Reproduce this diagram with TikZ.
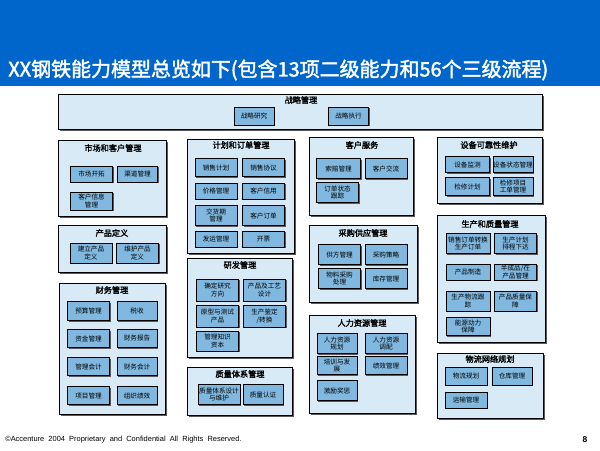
\documentclass[tikz,border=0pt]{standalone}
\usepackage{fontspec}
\setmainfont{Liberation Sans}
\newfontfamily\cjk{Noto Sans CJK SC}
\newfontfamily\cjkbold{Noto Sans CJK SC}[FakeBold=2]
\usepackage{tikz}
\usetikzlibrary{shadows}
\definecolor{barblue}{HTML}{0066CC}
\definecolor{grpfill}{HTML}{D8EAF6}
\definecolor{taskfill}{HTML}{80B8E0}

\begin{document}
\begin{tikzpicture}[x=0.025cm, y=-0.025cm, font=\cjk]

\useasboundingbox (0,0) rectangle (600,450);
\fill[barblue] (0,0) rectangle (600,86);

\tikzset{
  grp/.style={draw=black, line width=0.6pt, fill=grpfill, inner sep=0pt,
              drop shadow={shadow xshift=1.2pt, shadow yshift=-1.2pt, fill=black!65, opacity=1}},
  grptitle/.style={inner sep=0pt, font=\cjkbold\fontsize{5.8}{6.5}\selectfont},
  task/.style={draw=black, line width=0.6pt, fill=taskfill, inner sep=0pt, align=center,
               minimum width=1.03cm, minimum height=0.46cm,
               font=\cjk\fontsize{4.7}{5.6}\selectfont,
               drop shadow={shadow xshift=1pt, shadow yshift=-1pt, fill=black!65, opacity=1}}
}

\node[anchor=west, text=white, inner sep=0pt, font=\cjkbold\fontsize{14.2}{16}\selectfont]
      (title) at (8,70) {XX钢铁能力模型总览如下(包含13项二级能力和56个三级流程)};

% strategy
\node[grp, minimum width=12.1cm, minimum height=0.875cm] (strat) at (300,111.5) {};
\node[grptitle] (strat-t) at (301,100) {战略管理};
\node[task, minimum width=1cm, minimum height=0.45cm] (strat1) at (254,116) {战略研究};
\node[task, minimum width=1.02cm, minimum height=0.45cm] (strat2) at (348.5,116) {战略执行};

% column 1
\node[grp, minimum width=2.7cm, minimum height=1.9cm] (mkt) at (112,178) {};
\node[grptitle] (mkt-t) at (113,148) {市场和客户管理};
\node[task, minimum height=0.4cm] (mkt1) at (91.5,174) {市场开拓};
\node[task, minimum width=0.98cm, minimum height=0.4cm] (mkt2) at (137.5,174) {渠道管理};
\node[task, minimum height=0.45cm] (mkt3) at (91.5,201) {客户信息\\管理};

\node[grp, minimum width=2.7cm, minimum height=1.175cm] (prod) at (112,248.5) {};
\node[grptitle] (prod-t) at (112,233) {产品定义};
\node[task, minimum width=1.05cm, minimum height=0.5cm] (prod1) at (91,253) {建立产品\\定义};
\node[task, minimum width=1.03cm, minimum height=0.5cm] (prod2) at (137.5,253) {维护产品\\定义};

\node[grp, minimum width=2.65cm, minimum height=3.275cm] (fin) at (112,348.5) {};
\node[grptitle] (fin-t) at (112,290) {财务管理};
\node[task] (fin1) at (88.5,311) {预算管理};
\node[task, minimum width=1cm] (fin2) at (137,311) {税收};
\node[task] (fin3) at (88.5,338.5) {资金管理};
\node[task, minimum width=1cm] (fin4) at (137,338.5) {财务报告};
\node[task] (fin5) at (88.5,366.5) {管理会计};
\node[task, minimum width=1cm] (fin6) at (137,366.5) {财务会计};
\node[task] (fin7) at (88.5,395.5) {项目管理};
\node[task, minimum width=1cm] (fin8) at (137,395.5) {组织绩效};

% column 2
\node[grp, minimum width=2.675cm, minimum height=2.85cm] (plan) at (240.5,196) {};
\node[grptitle] (plan-t) at (241,145) {计划和订单管理};
\node[task, minimum width=1.05cm, minimum height=0.43cm] (plan1) at (216,167.5) {销售计划};
\node[task, minimum height=0.43cm] (plan2) at (263.5,167.5) {销售协议};
\node[task, minimum width=1.05cm, minimum height=0.4cm] (plan3) at (216,191) {价格管理};
\node[task, minimum height=0.4cm] (plan4) at (263.5,191) {客户信用};
\node[task, minimum width=1.05cm, minimum height=0.48cm] (plan5) at (216,215.5) {交货期\\管理};
\node[task, minimum height=0.48cm] (plan6) at (263.5,215.5) {客户订单};
\node[task, minimum width=1.05cm, minimum height=0.4cm] (plan7) at (216,239) {发运管理};
\node[task, minimum height=0.4cm] (plan8) at (263.5,239) {开票};

\node[grp, minimum width=2.625cm, minimum height=2.475cm] (rd) at (239.5,307.5) {};
\node[grptitle] (rd-t) at (240,265) {研发管理};
\node[task, minimum width=1.03cm, minimum height=0.55cm] (rd1) at (217.5,290) {确定研究\\方向};
\node[task, minimum width=1.03cm, minimum height=0.55cm] (rd2) at (264.5,290) {产品及工艺\\设计};
\node[task, minimum width=1.03cm, minimum height=0.55cm] (rd3) at (217.5,316) {原型与测试\\产品};
\node[task, minimum width=1.03cm, minimum height=0.55cm] (rd4) at (264.5,316) {生产鉴定\\/转换};
\node[task, minimum width=1.03cm, minimum height=0.5cm] (rd5) at (217.5,341) {管理知识\\资本};

\node[grp, minimum width=2.625cm, minimum height=1.2cm] (qms) at (239.5,391) {};
\node[grptitle] (qms-t) at (240,374) {质量体系管理};
\node[task, minimum width=1.05cm, minimum height=0.48cm] (qms1) at (219,394.5) {质量体系设计\\与维护};
\node[task, minimum width=1cm, minimum height=0.48cm] (qms2) at (263,394.5) {质量认证};

% column 3
\node[grp, minimum width=2.6cm, minimum height=1.95cm] (svc) at (361,176) {};
\node[grptitle] (svc-t) at (362,145) {客户服务};
\node[task, minimum width=1.08cm, minimum height=0.48cm] (svc1) at (338.5,168.5) {索赔管理};
\node[task, minimum width=1.05cm, minimum height=0.48cm] (svc2) at (386,168.5) {客户交流};
\node[task, minimum width=1.03cm, minimum height=0.48cm] (svc3) at (337.5,192.5) {订单状态\\跟踪};

\node[grp, minimum width=2.7cm, minimum height=1.925cm] (pur) at (363,263.5) {};
\node[grptitle] (pur-t) at (363,233) {采购供应管理};
\node[task, minimum height=0.52cm] (pur1) at (339.5,254.5) {供方管理};
\node[task, minimum width=1.05cm, minimum height=0.52cm] (pur2) at (386,254.5) {采购策略};
\node[task, minimum height=0.52cm] (pur3) at (339.5,278.5) {物料采购\\处理};
\node[task, minimum width=1.05cm, minimum height=0.52cm] (pur4) at (386,278.5) {库存管理};

\node[grp, minimum width=2.65cm, minimum height=2.45cm] (hr) at (362,364) {};
\node[grptitle] (hr-t) at (362,323) {人力资源管理};
\node[task, minimum width=1cm, minimum height=0.48cm] (hr1) at (337,343.5) {人力资源\\规划};
\node[task, minimum width=1.05cm, minimum height=0.48cm] (hr2) at (386,343.5) {人力资源\\调配};
\node[task, minimum width=1cm, minimum height=0.45cm] (hr3) at (337,365.5) {培训与发\\展};
\node[task, minimum width=1.05cm, minimum height=0.45cm] (hr4) at (386,365.5) {绩效管理};
\node[task, minimum width=1cm, minimum height=0.48cm] (hr5) at (337,390.5) {激励奖惩};

% column 4
\node[grp, minimum width=2.625cm, minimum height=1.65cm] (eqp) at (489.5,170) {};
\node[grptitle] (eqp-t) at (489,145) {设备可靠性维护};
\node[task, minimum width=1.12cm, minimum height=0.38cm] (eqp1) at (467.5,164.5) {设备监测};
\node[task, minimum width=1cm, minimum height=0.38cm] (eqp2) at (513,164.5) {设备状态管理};
\node[task, minimum width=1.12cm, minimum height=0.43cm] (eqp3) at (467.5,186.5) {检修计划};
\node[task, minimum width=1cm, minimum height=0.43cm] (eqp4) at (513,186.5) {检修项目\\工单管理};

\node[grp, minimum width=2.7cm, minimum height=3.175cm] (mfg) at (491,278.5) {};
\node[grptitle] (mfg-t) at (490,224) {生产和质量管理};
\node[task, minimum width=1.1cm, minimum height=0.48cm] (mfg1) at (468,243.5) {销售订单转换\\生产订单};
\node[task, minimum width=1.03cm, minimum height=0.48cm] (mfg2) at (515.5,243.5) {生产计划\\排程下达};
\node[task, minimum width=1.1cm, minimum height=0.4cm] (mfg3) at (468,272) {产品制造};
\node[task, minimum width=1.03cm, minimum height=0.4cm] (mfg4) at (515.5,272) {半成品/在\\产品管理};
\node[task, minimum width=1.1cm, minimum height=0.5cm] (mfg5) at (468,301) {生产物流跟\\踪};
\node[task, minimum width=1.03cm, minimum height=0.5cm] (mfg6) at (515.5,301) {产品质量保\\障};
\node[task, minimum width=1.1cm, minimum height=0.43cm] (mfg7) at (468,326.5) {能源动力\\保障};

\node[grp, minimum width=2.65cm, minimum height=1.625cm] (log) at (490,385.5) {};
\node[grptitle] (log-t) at (490,359) {物流网络规划};
\node[task, minimum width=1.05cm, minimum height=0.45cm] (log1) at (466,376) {物流规划};
\node[task, minimum width=1cm, minimum height=0.45cm] (log2) at (512,376) {仓库管理};
\node[task, minimum width=1.05cm, minimum height=0.4cm] (log3) at (466,400) {运输管理};

% footer
\node[anchor=west, inner sep=0pt, font=\fontsize{5.3}{6}\selectfont] (foot) at (5,440)
      {\textcopyright Accenture\ \ 2004\ \ Proprietary\ \ and\ \ Confidential\ \ All\ \ Rights\ \ Reserved.};
\node[inner sep=0pt, font=\bfseries\fontsize{6}{7}\selectfont] (page) at (585,440) {8};

\end{tikzpicture}
\end{document}
